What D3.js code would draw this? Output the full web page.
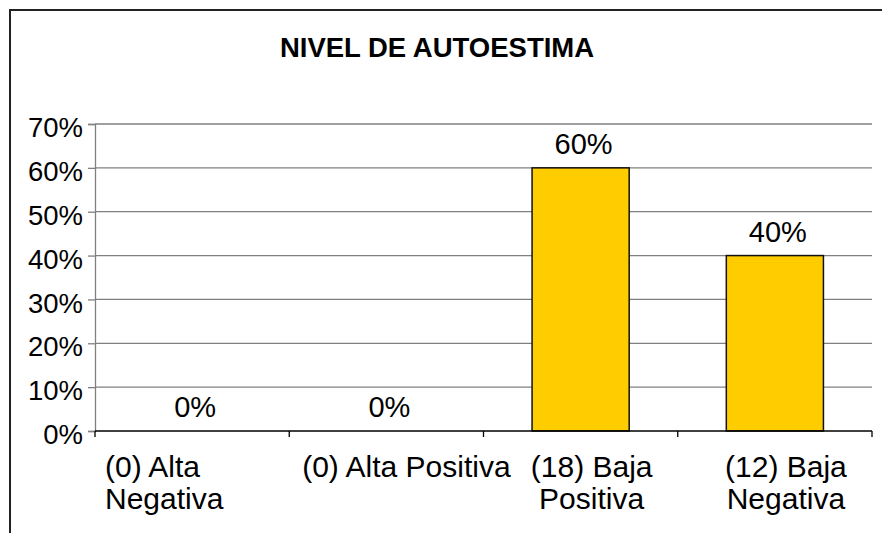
<!DOCTYPE html>
<html lang="es">
<head>
<meta charset="UTF-8">
<title>Nivel de autoestima</title>
<script src="https://d3js.org/d3.v7.min.js"></script>
<style>
  body { margin: 0; background: #fff; }
  svg { display: block; font-family: "Liberation Sans", Arial, sans-serif; }
</style>
</head>
<body>
<div id="chart"></div>
<script>
// datos
const categories = [
  ["(0) Alta", "Negativa"],
  ["(0) Alta Positiva"],
  ["(18) Baja", "Positiva"],
  ["(12) Baja", "Negativa"]
];
const values = [0, 0, 0.60, 0.40];
const yTicks = [0, 0.1, 0.2, 0.3, 0.4, 0.5, 0.6, 0.7];
const title = "NIVEL DE AUTOESTIMA";

const width = 882, height = 533;
const plot = { left: 95, right: 872, top: 124, bottom: 431 };

const svg = d3.select("#chart").append("svg")
  .attr("width", width)
  .attr("height", height);

// marco del grafico
svg.append("rect")
  .attr("x", 10).attr("y", 10)
  .attr("width", width).attr("height", height)
  .attr("fill", "#fff")
  .attr("stroke", "#222")
  .attr("stroke-width", 2);

svg.append("text")
  .attr("x", 437).attr("y", 57)
  .attr("text-anchor", "middle")
  .attr("font-size", 27.5)
  .attr("font-weight", "bold")
  .text(title);

const x = d3.scaleBand()
  .domain(d3.range(categories.length))
  .range([plot.left, plot.right]);

const y = d3.scaleLinear()
  .domain([0, 0.7])
  .range([plot.bottom, plot.top]);

// lineas de division
svg.append("g")
  .selectAll("line")
  .data(yTicks.filter(d => d > 0))
  .join("line")
  .attr("x1", plot.left).attr("x2", plot.right)
  .attr("y1", d => y(d)).attr("y2", d => y(d))
  .attr("stroke", "#808080")
  .attr("stroke-width", 1.3);

// eje y
const yAxis = svg.append("g")
  .attr("transform", `translate(${plot.left},0)`)
  .call(d3.axisLeft(y).tickValues(yTicks).tickFormat(d3.format(".0%")).tickSize(7).tickPadding(5));
yAxis.select(".domain").attr("stroke", "#808080").attr("stroke-width", 1.3);
yAxis.selectAll(".tick line").attr("stroke", "#808080").attr("stroke-width", 1.3);
yAxis.selectAll(".tick text")
  .attr("font-size", 27.5)
  .attr("font-family", "Liberation Sans, Arial, sans-serif")
  .attr("fill", "#000")
  .attr("dy", "0.46em");

// barras
svg.append("g")
  .selectAll("rect")
  .data(values)
  .join("rect")
  .attr("x", (d, i) => x(i) + x.bandwidth() / 4)
  .attr("width", x.bandwidth() / 2)
  .attr("y", d => y(d))
  .attr("height", d => y(0) - y(d))
  .attr("fill", "#ffcc00")
  .attr("stroke", "#111")
  .attr("stroke-width", 1.5);

// etiquetas de datos
svg.append("g")
  .selectAll("text")
  .data(values)
  .join("text")
  .attr("x", (d, i) => x(i) + x.bandwidth() / 2 + 3)
  .attr("y", d => y(d) - 14)
  .attr("text-anchor", "middle")
  .attr("font-size", 29)
  .text(d => d3.format(".0%")(d));

// eje x
const xAxis = svg.append("g")
  .attr("transform", `translate(0,${plot.bottom})`);
xAxis.append("line")
  .attr("x1", plot.left).attr("x2", plot.right)
  .attr("stroke", "#000").attr("stroke-width", 1.5);
xAxis.selectAll(".xtick")
  .data(d3.range(categories.length + 1))
  .join("line")
  .attr("class", "xtick")
  .attr("x1", i => i < categories.length ? x(i) : plot.right)
  .attr("x2", i => i < categories.length ? x(i) : plot.right)
  .attr("y1", 0).attr("y2", 6)
  .attr("stroke", "#000").attr("stroke-width", 1.3);

const labels = svg.append("g")
  .selectAll("text")
  .data(categories)
  .join("text")
  .attr("font-size", 30)
  .attr("text-anchor", (d, i) => i === 0 ? "start" : "middle")
  .attr("transform", (d, i) => {
    const cx = i === 0 ? x(i) + 10 : x(i) + x.bandwidth() / 2 + (i === 1 ? 20 : 11);
    return `translate(${cx},${plot.bottom + 46})`;
  });
labels.selectAll("tspan")
  .data(d => d)
  .join("tspan")
  .attr("x", 0)
  .attr("dy", (d, j) => j === 0 ? 0 : 32)
  .text(d => d);
</script>
</body>
</html>
